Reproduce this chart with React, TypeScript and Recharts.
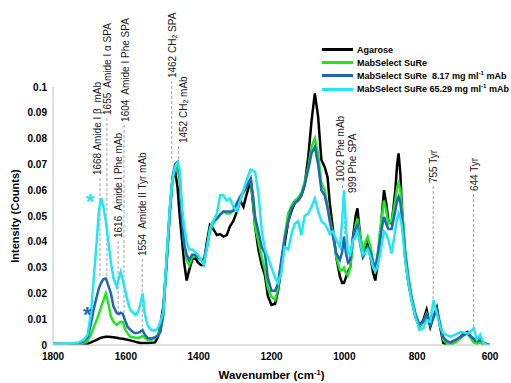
import { LineChart, Line, XAxis, YAxis, ReferenceLine, ReferenceDot } from 'recharts';

// Raman spectra (wavenumber in cm-1, intensity in counts)
const wavenumbers = [
  1800, 1760, 1730, 1715, 1705, 1696, 1688, 1680, 1674, 1668, 1662, 1655, 1648, 1641, 1634, 1625, 1619, 1614, 1608, 1602,
  1595, 1588, 1580, 1573, 1566, 1560, 1554, 1548, 1540, 1530, 1520, 1512, 1505, 1497, 1488, 1479, 1472, 1465, 1458, 1452,
  1446, 1440, 1433, 1426, 1418, 1410, 1402, 1394, 1386, 1378, 1369, 1360, 1350, 1341, 1332, 1323, 1314, 1305, 1295, 1286,
  1277, 1270, 1263, 1257, 1250, 1245, 1236, 1227, 1218, 1210, 1200, 1190, 1182, 1173, 1164, 1154, 1145, 1136, 1127, 1118,
  1109, 1099, 1090, 1081, 1072, 1063, 1054, 1046, 1040, 1031, 1022, 1012, 1006, 1001, 996, 990, 984, 976, 969, 964,
  957, 949, 942, 936, 928, 921, 915, 908, 902, 896, 891, 885, 879, 870, 860, 855, 851, 846, 842, 833,
  824, 815, 805, 794, 783, 774, 764, 755, 746, 737, 728, 718, 709, 695, 682, 670, 662, 654, 645, 636,
  627, 619, 610, 600,
];

const agarose = [
  0, 0, 0, 0.0002, 0.0005, 0.001, 0.0015, 0.002, 0.0025, 0.0028, 0.003, 0.0032, 0.0032, 0.0031, 0.003, 0.0028, 0.0026, 0.0025, 0.0024, 0.0022,
  0.002, 0.0018, 0.0015, 0.0012, 0.001, 0.0008, 0.0008, 0.0008, 0.0008, 0.0009, 0.001, 0.003, 0.008, 0.015, 0.032, 0.052, 0.064, 0.068, 0.061, 0.05,
  0.041, 0.032, 0.025, 0.029, 0.033, 0.034, 0.032, 0.031, 0.031, 0.0395, 0.0465, 0.045, 0.0426, 0.043, 0.042, 0.0426, 0.046, 0.048, 0.0517, 0.056,
  0.0536, 0.0575, 0.061, 0.064, 0.0536, 0.046, 0.037, 0.031, 0.027, 0.019, 0.0155, 0.016, 0.021, 0.03, 0.039, 0.048, 0.052, 0.055, 0.056, 0.058,
  0.062, 0.073, 0.087, 0.0975, 0.0885, 0.0717, 0.069, 0.065, 0.055, 0.0446, 0.034, 0.0265, 0.024, 0.024, 0.026, 0.0284, 0.03, 0.042, 0.05, 0.053,
  0.043, 0.035, 0.037, 0.0394, 0.034, 0.028, 0.025, 0.032, 0.0407, 0.052, 0.06, 0.055, 0.048, 0.047, 0.06, 0.07, 0.0743, 0.066, 0.0536, 0.034,
  0.024, 0.0174, 0.011, 0.007, 0.0097, 0.0136, 0.007, 0.011, 0.0145, 0.007, 0.0008, 0, 0, 0.0015, 0.003, 0.0045, 0.005, 0.0035, 0.0015, 0.001,
  0.002, 0.0005, 0, 0,
];

const suRe = [
  0.0005, 0.0004, 0.0005, 0.0008, 0.0015, 0.004, 0.007, 0.0097, 0.012, 0.0148, 0.017, 0.02, 0.016, 0.011, 0.009, 0.0078, 0.0085, 0.009, 0.0088, 0.006,
  0.0045, 0.0032, 0.003, 0.0028, 0.0028, 0.003, 0.0035, 0.0028, 0.002, 0.002, 0.0025, 0.004, 0.006, 0.012, 0.032, 0.052, 0.064, 0.068, 0.069, 0.064,
  0.052, 0.04, 0.033, 0.031, 0.034, 0.0345, 0.034, 0.033, 0.032, 0.037, 0.044, 0.047, 0.049, 0.0505, 0.0517, 0.051, 0.051, 0.052, 0.055, 0.057,
  0.059, 0.061, 0.063, 0.064, 0.055, 0.046, 0.04, 0.034, 0.029, 0.022, 0.0187, 0.0175, 0.022, 0.032, 0.042, 0.051, 0.054, 0.056, 0.057, 0.059,
  0.063, 0.069, 0.0768, 0.08, 0.074, 0.0627, 0.06, 0.054, 0.049, 0.043, 0.034, 0.029, 0.029, 0.03, 0.028, 0.027, 0.03, 0.0407, 0.0465, 0.049,
  0.043, 0.036, 0.04, 0.042, 0.038, 0.032, 0.03, 0.036, 0.044, 0.051, 0.056, 0.052, 0.047, 0.048, 0.056, 0.061, 0.0627, 0.06, 0.0536, 0.037,
  0.0265, 0.0187, 0.0123, 0.007, 0.009, 0.012, 0.008, 0.011, 0.013, 0.008, 0.002, 0.0005, 0, 0.001, 0.0025, 0.004, 0.0045, 0.003, 0.001, 0.0005,
  0.001, 0, 0, 0,
];

const suRe817 = [
  0.0005, 0.0004, 0.0008, 0.0015, 0.003, 0.008, 0.014, 0.0187, 0.022, 0.024, 0.0255, 0.0258, 0.023, 0.02, 0.015, 0.0124, 0.012, 0.0125, 0.012, 0.0095,
  0.007, 0.006, 0.005, 0.0046, 0.0048, 0.0052, 0.0058, 0.004, 0.0027, 0.0025, 0.003, 0.0035, 0.005, 0.012, 0.033, 0.053, 0.065, 0.07, 0.071, 0.066,
  0.048, 0.039, 0.035, 0.033, 0.035, 0.035, 0.034, 0.033, 0.033, 0.038, 0.045, 0.048, 0.049, 0.0505, 0.0517, 0.0517, 0.0517, 0.052, 0.055, 0.0575,
  0.0594, 0.061, 0.063, 0.0646, 0.057, 0.0497, 0.044, 0.038, 0.0355, 0.026, 0.021, 0.021, 0.024, 0.033, 0.041, 0.048, 0.053, 0.055, 0.056, 0.058,
  0.062, 0.068, 0.0743, 0.0768, 0.07, 0.06, 0.058, 0.053, 0.048, 0.042, 0.0355, 0.033, 0.036, 0.042, 0.036, 0.032, 0.033, 0.042, 0.045, 0.0465,
  0.0394, 0.034, 0.036, 0.038, 0.036, 0.032, 0.03, 0.035, 0.041, 0.046, 0.0497, 0.047, 0.045, 0.045, 0.052, 0.056, 0.0575, 0.055, 0.0497, 0.0355,
  0.025, 0.018, 0.012, 0.008, 0.009, 0.0116, 0.0075, 0.011, 0.0135, 0.008, 0.003, 0.0015, 0.001, 0.002, 0.003, 0.004, 0.0045, 0.0035, 0.0025, 0.002,
  0.002, 0.001, 0.0005, 0,
];

const suRe6529 = [
  0.0005, 0.0006, 0.001, 0.002, 0.004, 0.012, 0.026, 0.04, 0.052, 0.0569, 0.054, 0.048, 0.04, 0.032, 0.026, 0.0226, 0.026, 0.0284, 0.025, 0.0213,
  0.017, 0.0136, 0.0125, 0.0116, 0.013, 0.016, 0.02, 0.012, 0.0075, 0.0058, 0.0055, 0.0065, 0.009, 0.013, 0.034, 0.054, 0.064, 0.069, 0.0707, 0.068,
  0.0536, 0.046, 0.04, 0.037, 0.037, 0.036, 0.035, 0.033, 0.031, 0.037, 0.045, 0.048, 0.051, 0.058, 0.058, 0.056, 0.0568, 0.0536, 0.052, 0.056,
  0.06, 0.063, 0.066, 0.068, 0.0675, 0.067, 0.0588, 0.0446, 0.037, 0.034, 0.03, 0.026, 0.024, 0.028, 0.038, 0.037, 0.043, 0.047, 0.048, 0.0426,
  0.05, 0.051, 0.0536, 0.0568, 0.052, 0.048, 0.047, 0.045, 0.043, 0.044, 0.0407, 0.038, 0.048, 0.06, 0.047, 0.0355, 0.035, 0.0407, 0.042, 0.044,
  0.04, 0.035, 0.036, 0.037, 0.034, 0.03, 0.0284, 0.031, 0.035, 0.04, 0.044, 0.043, 0.0407, 0.0355, 0.0446, 0.049, 0.051, 0.049, 0.046, 0.033,
  0.024, 0.017, 0.011, 0.0058, 0.0065, 0.0097, 0.009, 0.0174, 0.0123, 0.007, 0.0045, 0.0038, 0.0032, 0.004, 0.005, 0.0048, 0.0045, 0.005, 0.0065, 0.002,
  0.004, 0.001, 0, 0,
];

const xTicks = [1800, 1600, 1400, 1200, 1000, 800, 600];
const yTicks = [0, 0.01, 0.02, 0.03, 0.04, 0.05, 0.06, 0.07, 0.08, 0.09, 0.1];

// peak assignments: label, where the dashed marker sits, its top and bottom (counts)
const annoLabels = [
  '1668 Amide I β  mAb',
  '1655  Amide I α SPA',
  '1616  Amide I Phe mAb',
  '1604  Amide I Phe SPA',
  '1554  Amide II Tyr mAb',
  '1462 CH2 SPA',
  '1452 CH2 mAb',
  '1002 Phe mAb',
  '999 Phe SPA',
  '755 Tyr',
  '644 Tyr',
];
const annoAt = [1671, 1652, 1621, 1605, 1555, 1474, 1455, 1005, 1000, 756, 645];
const annoTop = [0.0647, 0.088, 0.0403, 0.0853, 0.0333, 0.1023, 0.0771, 0.062, 0.0578, 0.0616, 0.0585];
const annoBottom = [0.0264, 0.024, 0.0124, 0.0124, 0.007, 0.0717, 0.072, 0.06, 0.0384, 0.0174, 0.0058];

// asterisks flagging the amide I band of the two loaded resins
const starAt = [1698, 1706];
const starValue = [0.0575, 0.0136];

const FONT = "'Liberation Sans', Arial, sans-serif";
const BLACK = '#000000';
const GREEN = '#1fe61f';
const BLUE = '#2266b8';
const CYAN = '#22e6f2';

const series = [
  { key: 'agarose', color: BLACK, name: 'Agarose', sup: '', tail: '' },
  { key: 'suRe', color: GREEN, name: 'MabSelect SuRe', sup: '', tail: '' },
  { key: 'suRe817', color: BLUE, name: 'MabSelect SuRe  8.17 mg ml', sup: '-1', tail: ' mAb' },
  { key: 'suRe6529', color: CYAN, name: 'MabSelect SuRe 65.29 mg ml', sup: '-1', tail: ' mAb' },
];
const starColors = [CYAN, BLUE];
const textShift = [-3.3, 0, 0, 1, 0, 0, 4.5, -2.5, 8, 0, 0];

const data = wavenumbers.map((w, i) => ({
  w,
  agarose: agarose[i],
  suRe: suRe[i],
  suRe817: suRe817[i],
  suRe6529: suRe6529[i],
}));

function labelParts(text: string) {
  const at = text.indexOf('CH2');
  if (at < 0) return <tspan>{text}</tspan>;
  return (
    <>
      <tspan>{text.slice(0, at + 2)}</tspan>
      <tspan dy={2} fontSize={7}>2</tspan>
      <tspan dy={-2}>{text.slice(at + 3)}</tspan>
    </>
  );
}

const annoShape = (i: number) => (p: any) => {
  const top = Math.min(p.y1, p.y2);
  const bottom = Math.max(p.y1, p.y2);
  return (
    <g>
      <line x1={p.x1} x2={p.x1} y1={top} y2={bottom} stroke="#a0a0a0" strokeWidth={1} strokeDasharray="3 2" />
      <text
        transform={`translate(${p.x1 + textShift[i]}, ${top - 3}) rotate(-90)`}
        fontSize={10}
        fontFamily={FONT}
        fill="#1a1a1a"
        dominantBaseline="central"
        style={{ whiteSpace: 'pre' }}
      >
        {labelParts(annoLabels[i])}
      </text>
    </g>
  );
};

const starShape = (i: number) => (p: any) => (
  <text x={p.cx} y={p.cy + 12} textAnchor="middle" fontSize={22} fontWeight="bold" fontFamily={FONT} fill={starColors[i]}>
    *
  </text>
);

const YTitle = ({ viewBox }: any) => (
  <text
    transform={`translate(${viewBox.x + 7}, ${viewBox.y + viewBox.height / 2}) rotate(-90)`}
    textAnchor="middle"
    dominantBaseline="central"
    fontSize={11}
    fontWeight="bold"
    fontFamily={FONT}
    fill="#000"
  >
    Intensity (Counts)
  </text>
);

const XTitle = ({ viewBox }: any) => (
  <text
    x={viewBox.x + viewBox.width / 2}
    y={viewBox.y + 34}
    textAnchor="middle"
    fontSize={11.5}
    fontWeight="bold"
    fontFamily={FONT}
    fill="#000"
  >
    <tspan>Wavenumber (cm</tspan>
    <tspan dy={-4} fontSize={7.5}>-1</tspan>
    <tspan dy={4}>)</tspan>
  </text>
);

const tickStyle = { fontSize: 10, fontWeight: 'bold', fontFamily: FONT, fill: '#000' };

export default function App() {
  return (
    <div style={{ position: 'absolute', left: 0, top: 0, width: 511, height: 383, background: '#fff' }}>
      <LineChart width={511} height={383} data={data} margin={{ top: 87, right: 21, bottom: 8, left: 8 }}>
        <XAxis
          type="number"
          dataKey="w"
          domain={[600, 1800]}
          ticks={xTicks}
          reversed
          allowDataOverflow
          height={30}
          tickLine={false}
          axisLine={{ stroke: '#c0c0c0' }}
          tick={tickStyle}
          label={<XTitle />}
        />
        <YAxis
          type="number"
          domain={[0, 0.1]}
          ticks={yTicks}
          allowDataOverflow
          width={45}
          tickLine={false}
          tickMargin={0}
          axisLine={{ stroke: '#c0c0c0' }}
          tick={tickStyle}
          tickFormatter={(v: number) => String(v)}
          label={<YTitle />}
        />
        {annoLabels.map((label, i) => (
          <ReferenceLine
            key={label}
            segment={[
              { x: annoAt[i], y: annoTop[i] },
              { x: annoAt[i], y: annoBottom[i] },
            ]}
            ifOverflow="visible"
            shape={annoShape(i)}
          />
        ))}
        {series.map((s) => (
          <Line
            key={s.key}
            type="linear"
            dataKey={s.key}
            stroke={s.color}
            strokeWidth={2.5}
            dot={false}
            activeDot={false}
            isAnimationActive={false}
          />
        ))}
        {starAt.map((x, i) => (
          <ReferenceDot key={x} x={x} y={starValue[i]} r={0} ifOverflow="visible" shape={starShape(i)} />
        ))}
      </LineChart>
      <div style={{ position: 'absolute', left: 322, top: 43, fontFamily: FONT, fontSize: 9, fontWeight: 'bold' }}>
        {series.map((s) => (
          <div key={s.key} style={{ display: 'flex', alignItems: 'center', height: 13.2, whiteSpace: 'pre' }}>
            <span style={{ display: 'inline-block', width: 31, height: 3, background: s.color, marginRight: 4 }} />
            <span>
              {s.name}
              {s.sup ? <sup style={{ fontSize: 6, lineHeight: 0 }}>{s.sup}</sup> : null}
              {s.tail}
            </span>
          </div>
        ))}
      </div>
    </div>
  );
}
